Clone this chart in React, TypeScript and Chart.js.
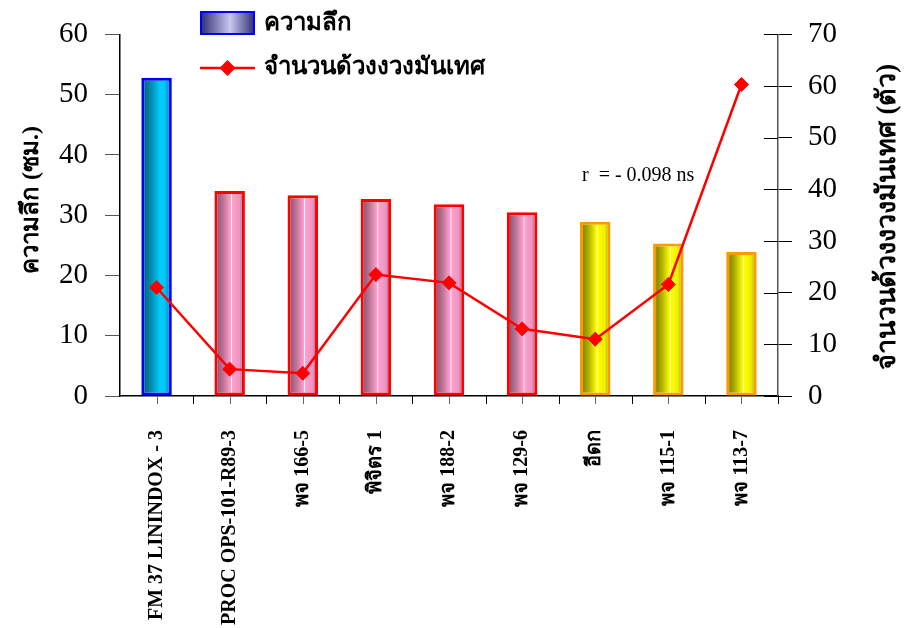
import { useEffect, useRef } from "react";
import { Chart, registerables } from "chart.js";

Chart.register(...registerables);

// Sweet potato varieties
const varieties = [
  "FM 37 LININDOX - 3",
  "PROC OPS-101-R89-3",
  "พจ 166-5",
  "พิจิตร 1",
  "พจ 188-2",
  "พจ 129-6",
  "อีดก",
  "พจ 115-1",
  "พจ 113-7",
];

// Depth (cm) – left axis
const depthCm = [52.8, 34.0, 33.3, 32.7, 31.8, 30.5, 28.9, 25.3, 23.9];

// Number of sweet potato weevils – right axis
const weevilCount = [21.0, 5.2, 4.4, 23.5, 21.9, 13.0, 11.0, 21.6, 60.3];

// Colour group of each bar
const barGroup = ["cyan", "pink", "pink", "pink", "pink", "pink", "yellow", "yellow", "yellow"];

const depthLabel = "ความลึก";
const weevilLabel = "จำนวนด้วงงวงมันเทศ";
const leftTitle = "ความลึก (ซม.)";
const rightTitle = "จำนวนด้วงงวงมันเทศ (ตัว)";
const corrNote = "r  = - 0.098 ns";

const SERIF = "'Liberation Serif', 'Times New Roman', serif";
const BAR_FRACTION = 0.417;

type Stop = [number, string];
const palettes: Record<string, { stops: Stop[]; border: string; flat: string }> = {
  cyan: {
    stops: [
      [0, "#005670"],
      [0.3, "#0088aa"],
      [0.62, "#00ccff"],
      [0.78, "#00c4f4"],
      [1, "#00708f"],
    ],
    border: "#0000ff",
    flat: "#00ccff",
  },
  pink: {
    stops: [
      [0, "#7a4a63"],
      [0.3, "#c07599"],
      [0.5, "#f79bc9"],
      [0.54, "#ffa0d0"],
      [0.56, "#ffffff"],
      [0.59, "#ffa0d0"],
      [0.82, "#ee94c1"],
      [1, "#8a5a72"],
    ],
    border: "#ff0000",
    flat: "#ff99cc",
  },
  yellow: {
    stops: [
      [0, "#6e6e00"],
      [0.3, "#b4b400"],
      [0.5, "#f2f200"],
      [0.54, "#ffff00"],
      [0.56, "#ffffff"],
      [0.59, "#ffff00"],
      [0.82, "#eeee00"],
      [1, "#8a8a00"],
    ],
    border: "#ff9900",
    flat: "#ffff00",
  },
};

const legendStops: Stop[] = [
  [0, "#2a2a70"],
  [0.55, "#c8c8f0"],
  [1, "#2a2a70"],
];

function barFill(ctx: any) {
  const pal = palettes[barGroup[ctx.dataIndex] ?? "pink"];
  const chart = ctx.chart;
  const xs = chart.scales?.x;
  if (ctx.type !== "data" || !xs) return pal.flat;
  const cx = xs.getPixelForValue(ctx.dataIndex);
  const w = (xs.width / varieties.length) * BAR_FRACTION;
  if (!Number.isFinite(cx) || !Number.isFinite(w) || w <= 0) return pal.flat;
  const g = chart.ctx.createLinearGradient(cx - w / 2, 0, cx + w / 2, 0);
  pal.stops.forEach(([o, c]) => g.addColorStop(o, c));
  return g;
}

function barBorder(ctx: any) {
  return palettes[barGroup[ctx.dataIndex] ?? "pink"].border;
}

// Extra decoration: x tick marks, inner right-axis ticks, titles, legend and note
const decorPlugin = {
  id: "decor",
  afterDraw(chart: any) {
    const { ctx, chartArea } = chart;
    const xs = chart.scales.x;
    const y1 = chart.scales.y1;
    const n = varieties.length;
    const half = xs.width / n / 2;

    ctx.save();
    // x-axis tick marks at category centres and boundaries
    ctx.lineWidth = 1;
    for (let i = 0; i < n; i++) {
      const c = Math.round(xs.getPixelForValue(i)) + 0.5;
      ctx.strokeStyle = "#666";
      ctx.beginPath();
      ctx.moveTo(c, chartArea.bottom);
      ctx.lineTo(c, chartArea.bottom + 8);
      ctx.stroke();
      const b = Math.round(xs.getPixelForValue(i) + half) + 0.5;
      ctx.strokeStyle = "#000";
      ctx.beginPath();
      ctx.moveTo(b, chartArea.bottom);
      ctx.lineTo(b, chartArea.bottom + 8);
      ctx.stroke();
    }
    // right axis ticks crossing into the plot
    ctx.strokeStyle = "#000";
    y1.ticks.forEach((t: any) => {
      const y = Math.round(y1.getPixelForValue(t.value)) + 0.5;
      ctx.beginPath();
      ctx.moveTo(chartArea.right - 14, y);
      ctx.lineTo(chartArea.right, y);
      ctx.stroke();
    });

    // axis titles, both reading bottom to top
    ctx.fillStyle = "#000";
    ctx.textAlign = "center";
    ctx.textBaseline = "middle";
    ctx.save();
    ctx.font = `bold 24px ${SERIF}`;
    ctx.translate(32, 200);
    ctx.rotate(-Math.PI / 2);
    ctx.fillText(leftTitle, 0, 0);
    ctx.restore();
    ctx.save();
    ctx.font = `bold 27px ${SERIF}`;
    ctx.translate(888, 217);
    ctx.rotate(-Math.PI / 2);
    ctx.fillText(rightTitle, 0, 0);
    ctx.restore();

    // correlation note
    ctx.font = `20px ${SERIF}`;
    ctx.textAlign = "left";
    ctx.textBaseline = "alphabetic";
    ctx.fillText(corrNote, 582, 181);

    // legend
    const bx = 200, by = 11, bw = 55, bh = 24;
    const g = ctx.createLinearGradient(bx, 0, bx + bw, 0);
    legendStops.forEach(([o, c]) => g.addColorStop(o, c));
    ctx.fillStyle = g;
    ctx.fillRect(bx, by, bw, bh);
    ctx.strokeStyle = "#0000ff";
    ctx.lineWidth = 2;
    ctx.strokeRect(bx + 1, by + 1, bw - 2, bh - 2);

    const ly = 68;
    ctx.strokeStyle = "#ff0000";
    ctx.lineWidth = 2.5;
    ctx.beginPath();
    ctx.moveTo(bx, ly);
    ctx.lineTo(bx + bw, ly);
    ctx.stroke();
    const dx = bx + bw / 2, r = 8;
    ctx.fillStyle = "#ff0000";
    ctx.beginPath();
    ctx.moveTo(dx - r, ly);
    ctx.lineTo(dx, ly - r);
    ctx.lineTo(dx + r, ly);
    ctx.lineTo(dx, ly + r);
    ctx.closePath();
    ctx.fill();

    ctx.fillStyle = "#000";
    ctx.font = `bold 24px ${SERIF}`;
    ctx.textBaseline = "middle";
    ctx.fillText(depthLabel, 264, 24);
    ctx.fillText(weevilLabel, 264, 68);
    ctx.restore();
  },
};

export default function App() {
  const canvasRef = useRef<HTMLCanvasElement | null>(null);

  useEffect(() => {
    document.body.style.margin = "0";
    const canvas = canvasRef.current;
    if (!canvas) return;

    const chart = new Chart(canvas, {
      type: "bar",
      data: {
        labels: varieties,
        datasets: [
          {
            type: "line",
            label: weevilLabel,
            data: weevilCount,
            yAxisID: "y1",
            order: 0,
            borderColor: "#ff0000",
            backgroundColor: "#ff0000",
            borderWidth: 2.5,
            tension: 0,
            pointStyle: "rectRot",
            pointRadius: 7,
            pointBorderWidth: 1,
            pointBackgroundColor: "#ff0000",
            pointBorderColor: "#ff0000",
          },
          {
            type: "bar",
            label: depthLabel,
            data: depthCm,
            yAxisID: "y",
            order: 1,
            backgroundColor: barFill,
            borderColor: barBorder,
            borderWidth: 3,
            borderSkipped: false,
            categoryPercentage: 1,
            barPercentage: BAR_FRACTION,
          },
        ] as any,
      },
      options: {
        responsive: false,
        animation: false,
        layout: { padding: { top: 34, left: 0, right: 0, bottom: 0 } },
        plugins: {
          legend: { display: false },
          tooltip: { enabled: false },
          title: { display: false },
        },
        scales: {
          x: {
            grid: { display: false },
            border: { display: true, color: "#000", width: 1.5 },
            ticks: {
              color: "#000",
              font: { family: SERIF, size: 20, weight: "bold" },
              minRotation: 90,
              maxRotation: 90,
              autoSkip: false,
              padding: 26,
            },
            afterFit: (s: any) => {
              s.height = 232;
            },
          },
          y: {
            position: "left",
            min: 0,
            max: 60,
            grid: { drawOnChartArea: false, tickLength: 15, color: "#555" },
            border: { color: "#000", width: 1.5 },
            ticks: {
              stepSize: 10,
              color: "#000",
              padding: 17,
              font: { family: SERIF, size: 29 },
            },
            afterFit: (s: any) => {
              s.width = 120;
            },
          },
          y1: {
            position: "right",
            min: 0,
            max: 70,
            grid: { drawOnChartArea: false, tickLength: 14, color: "#000" },
            border: { color: "#555", width: 1.5 },
            ticks: {
              stepSize: 10,
              color: "#000",
              padding: 16,
              font: { family: SERIF, size: 29 },
            },
            afterFit: (s: any) => {
              s.width = 130;
            },
          },
        },
      } as any,
      plugins: [decorPlugin],
    });

    return () => chart.destroy();
  }, []);

  return (
    <div style={{ width: 908, height: 628, background: "#fff" }}>
      <canvas ref={canvasRef} width={908} height={628} />
    </div>
  );
}
